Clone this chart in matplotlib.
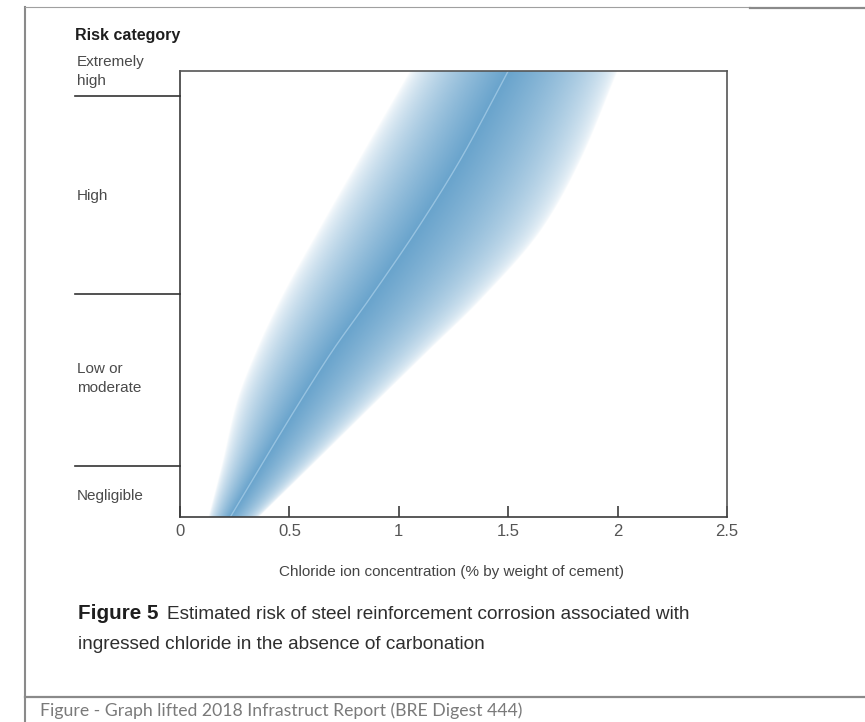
import numpy as np
import matplotlib
matplotlib.use('Agg')
import matplotlib.pyplot as plt
from matplotlib import font_manager as fm
from matplotlib.lines import Line2D
from matplotlib import transforms

# ---------------- data ----------------
risk_categories = ['Negligible', 'Low or\nmoderate', 'High', 'Extremely\nhigh']
category_bounds = [0.0, 1.15, 5.0, 9.45, 10.0]          # risk-scale boundaries
band_levels = [0.0, 1.15, 2.6, 3.75, 4.85, 6.5, 8.0, 10.0]
band_left   = [0.13, 0.19, 0.26, 0.35, 0.455, 0.64, 0.815, 1.05]
band_centre = [0.23, 0.37, 0.55, 0.70, 0.86, 1.09, 1.28, 1.50]
band_right  = [0.36, 0.60, 0.90, 1.14, 1.37, 1.66, 1.83, 2.00]
x_ticks = [0, 0.5, 1, 1.5, 2, 2.5]
x_tick_labels = ['0', '0.5', '1', '1.5', '2', '2.5']
x_label = 'Chloride ion concentration (% by weight of cement)'
y_title = 'Risk category'
caption_bold = 'Figure 5'
caption_line1 = 'Estimated risk of steel reinforcement corrosion associated with'
caption_line2 = 'ingressed chloride in the absence of carbonation'
footer = 'Figure - Graph lifted 2018 Infrastruct Report (BRE Digest 444)'


def pick(fams):
    for f in fams:
        try:
            fm.findfont(fm.FontProperties(family=f), fallback_to_default=False)
            return f
        except Exception:
            pass
    return 'DejaVu Sans'


narrow = pick(['Liberation Sans Narrow', 'Liberation Sans', 'Roboto'])
footer_font = pick(['Lato', 'Open Sans', 'Liberation Sans'])


def pchip(xk, yk, x):
    """Monotone cubic curve through the read-off points (for smooth rendering)."""
    xk = np.asarray(xk, float)
    yk = np.asarray(yk, float)
    h = np.diff(xk)
    d = np.diff(yk) / h
    m = np.zeros_like(yk)
    for i in range(1, len(xk) - 1):
        if d[i - 1] * d[i] > 0:
            w1 = 2 * h[i] + h[i - 1]
            w2 = h[i] + 2 * h[i - 1]
            m[i] = (w1 + w2) / (w1 / d[i - 1] + w2 / d[i])
    m[0] = d[0]
    m[-1] = d[-1]
    idx = np.clip(np.searchsorted(xk, x) - 1, 0, len(xk) - 2)
    t = (x - xk[idx]) / h[idx]
    h00 = 2 * t**3 - 3 * t**2 + 1
    h10 = t**3 - 2 * t**2 + t
    h01 = -2 * t**3 + 3 * t**2
    h11 = t**3 - t**2
    return (h00 * yk[idx] + h10 * h[idx] * m[idx] +
            h01 * yk[idx + 1] + h11 * h[idx] * m[idx + 1])


W, H = 865, 722
fig = plt.figure(figsize=(W / 100, H / 100), dpi=100)
fig.patch.set_facecolor('white')


def fx(px):
    return px / W


def fy(py):
    return 1 - py / H


ax_l, ax_r, ax_t, ax_b = 180, 727, 71, 517
ax = fig.add_axes([fx(ax_l), fy(ax_b), (ax_r - ax_l) / W, (ax_b - ax_t) / H])
ax.set_xlim(0, 2.5)
ax.set_ylim(category_bounds[0], category_bounds[-1])

# ---------------- shaded band ----------------
nx, ny = 1400, 900
xs = np.linspace(0, 2.5, nx)
ys = np.linspace(category_bounds[0], category_bounds[-1], ny)
X = np.broadcast_to(xs[None, :], (ny, nx))
L = pchip(band_levels, band_left, ys)[:, None]
C = pchip(band_levels, band_centre, ys)[:, None]
R = pchip(band_levels, band_right, ys)[:, None]
s = np.zeros((ny, nx))
lm = (X >= L) & (X <= C)
rm = (X > C) & (X <= R)
s = np.where(lm, np.clip((X - L) / (C - L), 0, 1) ** 0.65, s)
s = np.where(rm, np.clip((R - X) / (R - C), 0, 1) ** 0.55, s)
base = np.array([0.38, 0.62, 0.79])
rgba = np.zeros((ny, nx, 4))
rgba[..., :3] = base
rgba[..., 3] = s * 0.95
ax.imshow(rgba, extent=[0, 2.5, category_bounds[0], category_bounds[-1]],
          origin='lower', aspect='auto', interpolation='bilinear', zorder=1)
ax.plot(pchip(band_levels, band_centre, ys), ys, color='#9fc8e4', lw=1.0,
        alpha=0.85, zorder=2)

# ---------------- axes styling ----------------
for sp in ['left', 'bottom', 'top', 'right']:
    ax.spines[sp].set_linewidth(1.2)
    ax.spines[sp].set_color('#3c3c3c')
ax.spines['right'].set_color('#555555')
ax.spines['top'].set_color('#555555')
ax.set_yticks([])
ax.set_xticks(x_ticks)
ax.set_xticklabels(x_tick_labels)
ax.tick_params(axis='x', direction='in', length=8, width=1.2, color='#3c3c3c',
               pad=5, labelsize=12, labelcolor='#555555')
for lab in ax.get_xticklabels():
    lab.set_fontfamily(narrow)

# category boundary lines left of the axis
blend = transforms.blended_transform_factory(fig.transFigure, ax.transData)
for b in category_bounds[1:-1]:
    ax.plot([fx(75), fx(ax_l)], [b, b], transform=blend, color='#333333',
            lw=1.2, clip_on=False, zorder=3)

renderer = fig.canvas.get_renderer()


def fit(t, target):
    w = t.get_window_extent(renderer).width
    t.set_fontsize(t.get_fontsize() * target / w)


# category labels (pixel baselines of last line)
label_baselines = [500, 392, 200, 85]
cat_texts = []
for name, yb in zip(risk_categories, label_baselines):
    t = fig.text(fx(77), fy(yb), name, ha='left', va='baseline', family=narrow,
                 fontsize=10, color='#4a4a4a', linespacing=1.45,
                 multialignment='left')
    cat_texts.append(t)
fit(cat_texts[0], 67)
for t in cat_texts[1:]:
    t.set_fontsize(cat_texts[0].get_fontsize())

tt = fig.text(fx(75), fy(40), y_title, ha='left', va='baseline', family=narrow,
              fontweight='bold', fontsize=10, color='#1e1e1e')
fit(tt, 105)

# x label
xl = fig.text(fx(452), fy(576), x_label, ha='center', va='baseline', family=narrow,
              fontsize=10, color='#444444')
fit(xl, 347)

# caption
cb = fig.text(fx(78), fy(619), caption_bold, ha='left', va='baseline', family=narrow,
              fontweight='bold', fontsize=12, color='#1e1e1e')
fit(cb, 80)
c1 = fig.text(fx(167), fy(619), caption_line1, ha='left', va='baseline', family=narrow,
              fontsize=12, color='#2e2e2e')
fit(c1, 527)
c2 = fig.text(fx(78), fy(649), caption_line2, ha='left', va='baseline', family=narrow,
              fontsize=c1.get_fontsize(), color='#2e2e2e')

# footer
ft = fig.text(fx(40), fy(716), footer, ha='left', va='baseline', family=footer_font,
              fontsize=10, color='#7a7a7a')
fit(ft, 483)

# frame lines
frame = [
    ([25, 25], [7, 722], '#8a8a8a', 1.5),
    ([25, 750], [7, 7], '#a0a0a0', 0.8),
    ([750, 865], [8, 8], '#8a8a8a', 1.6),
    ([25, 865], [697, 697], '#8a8a8a', 1.6),
]
for xx, yy, col, lw in frame:
    fig.add_artist(Line2D([fx(v) for v in xx], [fy(v) for v in yy],
                          transform=fig.transFigure, color=col, lw=lw))

fig.savefig('out.png', dpi=100, facecolor='white')
